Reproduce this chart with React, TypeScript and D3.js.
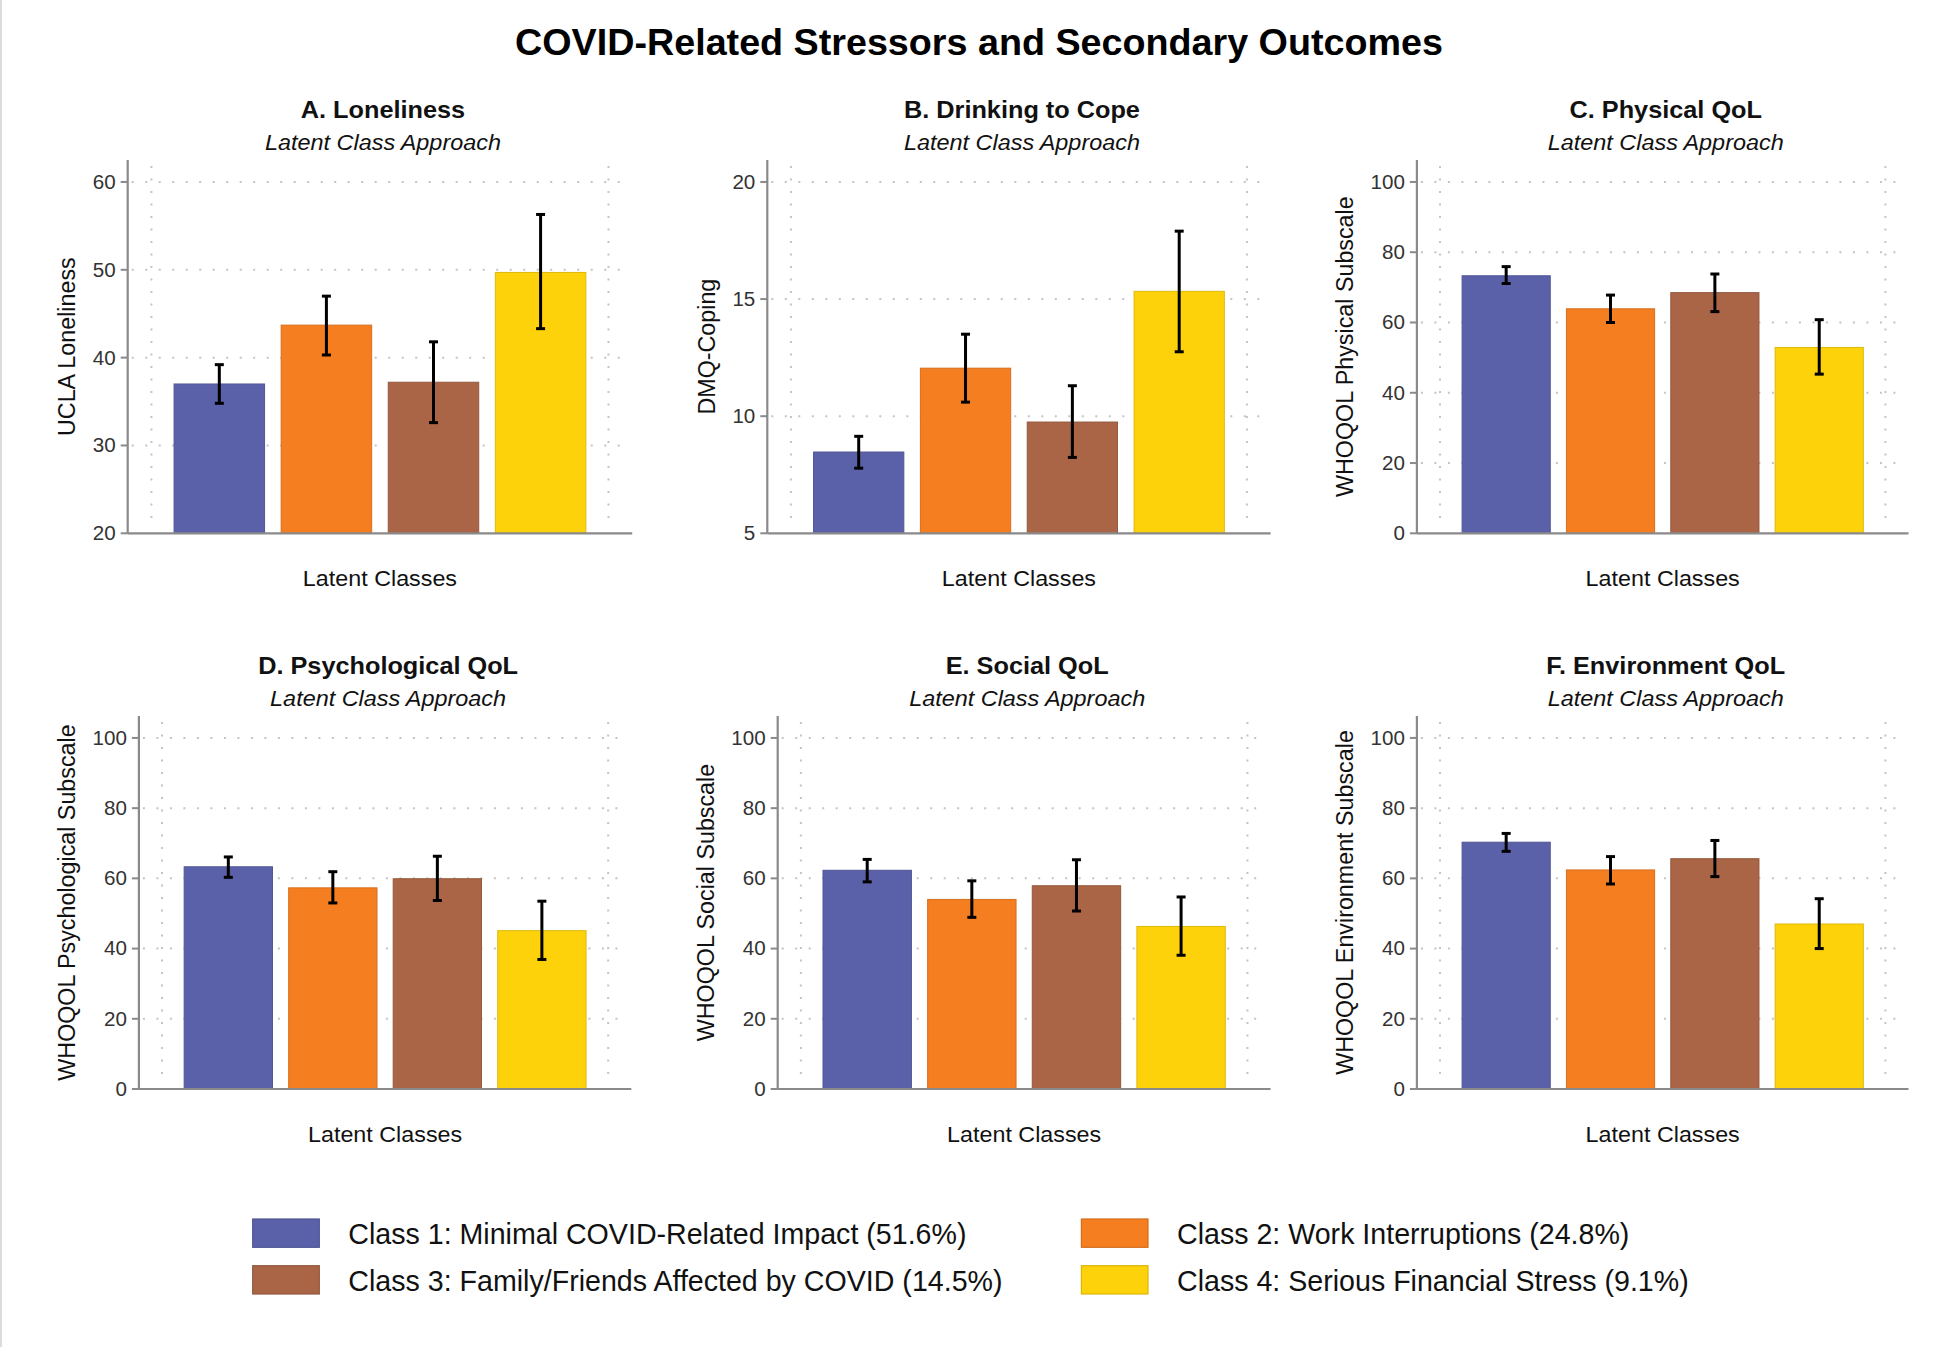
import React from "react";
import * as d3 from "d3";

// ---------- DATA ----------
const classNames = [
  "Class 1: Minimal COVID-Related Impact (51.6%)",
  "Class 2: Work Interruptions (24.8%)",
  "Class 3: Family/Friends Affected by COVID (14.5%)",
  "Class 4: Serious Financial Stress (9.1%)",
];
const classColors = ["#5b61a9", "#f47e20", "#a96545", "#fdd20a"];

const lonelinessMean = [37.0, 43.7, 37.2, 49.7];
const lonelinessLow = [34.8, 40.3, 32.6, 43.3];
const lonelinessHigh = [39.2, 47.0, 41.8, 56.3];

const drinkingMean = [8.47, 12.05, 9.75, 15.33];
const drinkingLow = [7.78, 10.6, 8.24, 12.75];
const drinkingHigh = [9.14, 13.5, 11.3, 17.9];

const physicalMean = [73.3, 63.9, 68.5, 52.9];
const physicalLow = [71.1, 60.0, 63.1, 45.3];
const physicalHigh = [75.9, 67.8, 73.8, 60.8];

const psychMean = [63.3, 57.3, 59.9, 45.1];
const psychLow = [60.3, 53.0, 53.7, 36.9];
const psychHigh = [66.1, 61.9, 66.3, 53.5];

const socialMean = [62.3, 54.0, 57.9, 46.3];
const socialLow = [59.0, 48.9, 50.7, 38.1];
const socialHigh = [65.4, 59.3, 65.3, 54.7];

const envMean = [70.3, 62.4, 65.6, 47.0];
const envLow = [67.7, 58.4, 60.5, 40.0];
const envHigh = [72.8, 66.2, 70.8, 54.2];

const ticksLoneliness = [20, 30, 40, 50, 60];
const ticksDrinking = [5, 10, 15, 20];
const ticksQoL = [0, 20, 40, 60, 80, 100];

const panelTitles = [
  "A. Loneliness",
  "B. Drinking to Cope",
  "C. Physical QoL",
  "D. Psychological QoL",
  "E. Social QoL",
  "F. Environment QoL",
];
const panelYLabels = [
  "UCLA Loneliness",
  "DMQ-Coping",
  "WHOQOL Physical Subscale",
  "WHOQOL Psychological Subscale",
  "WHOQOL Social Subscale",
  "WHOQOL Environment Subscale",
];
const subtitle = "Latent Class Approach";
const xLabel = "Latent Classes";
const mainTitle = "COVID-Related Stressors and Secondary Outcomes";

const panelData = [
  { mean: lonelinessMean, low: lonelinessLow, high: lonelinessHigh, ticks: ticksLoneliness },
  { mean: drinkingMean, low: drinkingLow, high: drinkingHigh, ticks: ticksDrinking },
  { mean: physicalMean, low: physicalLow, high: physicalHigh, ticks: ticksQoL },
  { mean: psychMean, low: psychLow, high: psychHigh, ticks: ticksQoL },
  { mean: socialMean, low: socialLow, high: socialHigh, ticks: ticksQoL },
  { mean: envMean, low: envLow, high: envHigh, ticks: ticksQoL },
];

// ---------- LAYOUT ----------
const W = 1950;
const H = 1347;
const FONT = '"Liberation Sans", Arial, Helvetica, sans-serif';

const rowTops = [160, 716];
const rowBottoms = [533.3, 1089];
const panelLayout = [
  { x0: 127.7, x1: 632.2, row: 0 },
  { x0: 767.3, x1: 1270.6, row: 0 },
  { x0: 1416.9, x1: 1908.5, row: 0 },
  { x0: 138.9, x1: 631.3, row: 1 },
  { x0: 777.7, x1: 1270.6, row: 1 },
  { x0: 1416.9, x1: 1908.5, row: 1 },
];

function SText(props: any) {
  const { x, y, sx = 1, rotate = 0, children, ...rest } = props;
  return (
    <text
      transform={`translate(${x},${y}) scale(${sx},1)${rotate ? ` rotate(${rotate})` : ""}`}
      fontFamily={FONT}
      {...rest}
    >
      {children}
    </text>
  );
}

function Panel({ idx }: { idx: number }) {
  const L = panelLayout[idx];
  const D = panelData[idx];
  const top = rowTops[L.row];
  const bottom = rowBottoms[L.row];
  const tmin = D.ticks[0];
  const tmax = D.ticks[D.ticks.length - 1];
  const y = d3
    .scaleLinear()
    .domain([tmin, tmax + (tmax - tmin) * 0.0625])
    .range([bottom, top]);
  const x = d3
    .scaleBand<string>()
    .domain(classNames)
    .range([L.x0, L.x1])
    .paddingInner(0.155)
    .paddingOuter(0.433);
  const gx = d3.scaleLinear().domain([0, 1]).range([L.x0, L.x1]);
  const vGrid = [0.047, 0.953];
  const cx = (L.x0 + L.x1) / 2;
  const maxLabelChars = d3.max(D.ticks, (t) => String(t).length) as number;
  const yLabelX = L.x0 - 13 - maxLabelChars * 11.4 - 17;
  const fmt = d3.format("d");
  const capW = 4.5;

  return (
    <g>
      {D.ticks.slice(1).map((t) => (
        <line
          key={"h" + t}
          x1={L.x0 + 4}
          x2={L.x1 - 4}
          y1={y(t)}
          y2={y(t)}
          stroke="#c4c4c4"
          strokeWidth={2}
          strokeDasharray="2,11.5"
        />
      ))}
      {vGrid.map((f) => (
        <line
          key={"v" + f}
          x1={gx(f)}
          x2={gx(f)}
          y1={top + 6}
          y2={bottom - 8}
          stroke="#c4c4c4"
          strokeWidth={2}
          strokeDasharray="2,10.5"
        />
      ))}
      {classNames.map((c, i) => (
        <rect
          key={"b" + i}
          x={x(c)}
          width={x.bandwidth()}
          y={y(D.mean[i])}
          height={y(tmin) - y(D.mean[i])}
          fill={classColors[i]}
          stroke={d3.color(classColors[i])!.darker(0.35).formatHex()}
          strokeWidth={1}
        />
      ))}
      {classNames.map((c, i) => {
        const mx = (x(c) as number) + x.bandwidth() / 2;
        return (
          <g key={"e" + i} stroke="#000" strokeWidth={3}>
            <line x1={mx} x2={mx} y1={y(D.high[i])} y2={y(D.low[i])} />
            <line x1={mx - capW} x2={mx + capW} y1={y(D.high[i])} y2={y(D.high[i])} />
            <line x1={mx - capW} x2={mx + capW} y1={y(D.low[i])} y2={y(D.low[i])} />
          </g>
        );
      })}
      <line x1={L.x0} x2={L.x0} y1={top} y2={bottom} stroke="#8a8a8a" strokeWidth={2.2} />
      <line x1={L.x0} x2={L.x1} y1={bottom} y2={bottom} stroke="#8a8a8a" strokeWidth={2.2} />
      {D.ticks.map((t) => (
        <g key={"t" + t}>
          <line x1={L.x0 - 7} x2={L.x0} y1={y(t)} y2={y(t)} stroke="#8a8a8a" strokeWidth={2} />
          <SText
            x={L.x0 - 12}
            y={y(t)}
            sx={1.03}
            textAnchor="end"
            dominantBaseline="central"
            fontSize={20}
            fill="#333"
          >
            {fmt(t)}
          </SText>
        </g>
      ))}
      <SText x={cx + 3} y={top - 41.7} sx={1.1} textAnchor="middle" fontSize={23} fontWeight="bold" fill="#111">
        {panelTitles[idx]}
      </SText>
      <SText x={cx + 3} y={top - 10} sx={1.09} textAnchor="middle" fontSize={21.5} fontStyle="italic" fill="#111">
        {subtitle}
      </SText>
      <SText x={cx} y={bottom + 53} sx={1.06} textAnchor="middle" fontSize={22} fill="#111">
        {xLabel}
      </SText>
      <SText
        x={yLabelX}
        y={(top + bottom) / 2}
        sx={1.05}
        rotate={-90}
        textAnchor="middle"
        fontSize={23.3}
        fill="#111"
      >
        {panelYLabels[idx]}
      </SText>
    </g>
  );
}

const legendCols = [252.7, 1081.4];
const legendRows = [1219, 1265.7];

export default function App() {
  return (
    <svg
      width={W}
      height={H}
      viewBox={`0 0 ${W} ${H}`}
      style={{ position: "absolute", left: 0, top: 0, background: "#fff" }}
    >
      <rect x={0} y={0} width={W} height={H} fill="#fff" />
      <line x1={1} x2={1} y1={0} y2={H} stroke="#d0d0d0" strokeWidth={1.5} />
      <text
        x={979}
        y={55}
        textAnchor="middle"
        fontFamily={FONT}
        fontSize={37.7}
        fontWeight="bold"
        fill="#000"
      >
        {mainTitle}
      </text>
      {panelLayout.map((_, i) => (
        <Panel key={i} idx={i} />
      ))}
      {classNames.map((c, i) => {
        const col = i % 2;
        const row = Math.floor(i / 2);
        const lx = legendCols[col];
        const ly = legendRows[row];
        return (
          <g key={"lg" + i}>
            <rect
              x={lx}
              y={ly}
              width={66.6}
              height={28.3}
              fill={classColors[i]}
              stroke={d3.color(classColors[i])!.darker(0.4).formatHex()}
              strokeWidth={1.2}
            />
            <text
              x={lx + 95.6}
              y={ly + 25.3}
              fontFamily={FONT}
              fontSize={28.6}
              fill="#111"
            >
              {c}
            </text>
          </g>
        );
      })}
    </svg>
  );
}
